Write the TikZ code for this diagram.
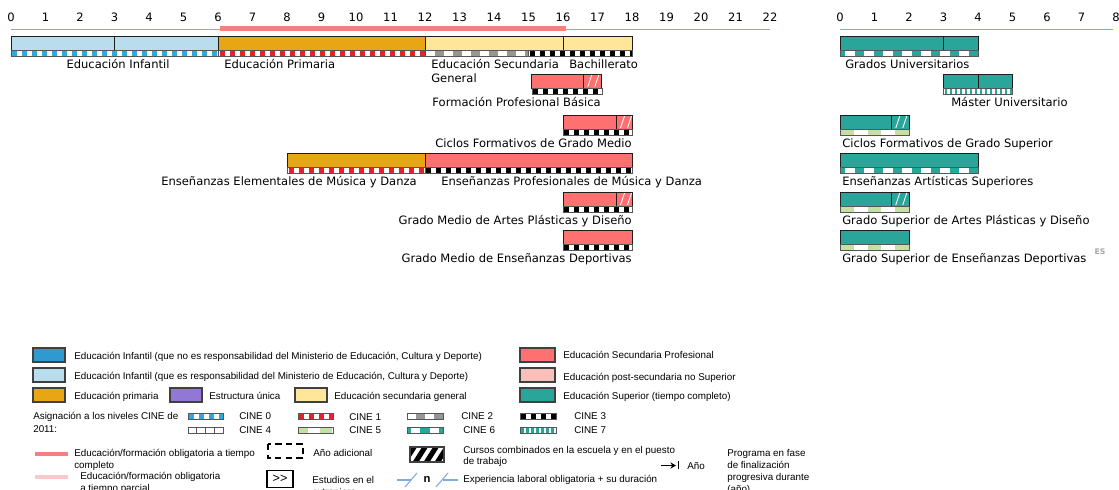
\documentclass[tikz,border=0pt]{standalone}
\usepackage{fontspec}
\setmainfont{DejaVu Sans}
\newfontfamily\legendFamily{Liberation Sans}
\usetikzlibrary{positioning,arrows.meta}
\definecolor{infantDark}{RGB}{47,154,208}
\definecolor{infantLight}{RGB}{185,221,237}
\definecolor{primaryColor}{RGB}{232,165,20}
\definecolor{singleColor}{RGB}{145,120,214}
\definecolor{secondaryColor}{RGB}{255,230,153}
\definecolor{vocationalColor}{RGB}{255,112,112}
\definecolor{postSecColor}{RGB}{249,191,185}
\definecolor{tertiaryColor}{RGB}{41,166,153}
\definecolor{cineZero}{RGB}{41,170,225}
\definecolor{cineOne}{RGB}{232,32,42}
\definecolor{cineTwo}{RGB}{150,150,150}
\definecolor{cineFive}{RGB}{197,224,164}
\definecolor{axisColor}{RGB}{126,174,224}
\definecolor{fullTimeColor}{RGB}{242,128,128}
\definecolor{partTimeColor}{RGB}{250,200,202}
\definecolor{frameColor}{RGB}{30,30,30}
\newcommand{\chartFont}{\fontsize{8.2pt}{10pt}\selectfont}
\newcommand{\keyFont}{\legendFamily\fontsize{7pt}{9pt}\selectfont}
\tikzstyle{chart} = [x=0.025cm, y=-0.025cm]
\tikzstyle{barStyle} = [draw=frameColor, line width=0.7pt]
\tikzstyle{stripFrame} = [draw=frameColor!75, line width=0.5pt]
\tikzstyle{axisLine} = [color=axisColor, line width=0.8pt]
\tikzstyle{compulsoryLine} = [color=fullTimeColor, line width=2.9pt]
\tikzstyle{tickText} = [font=\chartFont, inner sep=0pt]
\tikzstyle{levelText} = [font=\chartFont, inner sep=0pt]
\tikzstyle{keyText} = [font=\keyFont, inner sep=0pt, anchor=base west]
\tikzstyle{keyBox} = [draw=frameColor!85, line width=0.8pt]
\newcommand{\yearWidth}{34.5}
\newcommand{\eduBar}[5]{\filldraw [barStyle, fill=#5] ({#1 + \yearWidth * #2}, #4) rectangle ({#1 + \yearWidth * #3}, #4 + 14);}
\newcommand{\yearDivider}[3]{\draw [barStyle] ({#1 + \yearWidth * #2}, #3) -- ++(0, 14);}
\newcommand{\combinedMarks}[3]{
  \draw [white, line width=0.6pt] ({#1 + \yearWidth * #2 + 4}, #3 + 13) -- ++(4, -12);
  \draw [white, line width=0.6pt] ({#1 + \yearWidth * #2 + 11}, #3 + 13) -- ++(4, -12);
}
\newcommand{\cineCells}[6]{
  \begin{scope}
    \clip (#1, #3) rectangle (#2, #3 + 6.5);
    \fill [white] (#1, #3) rectangle (#2, #3 + 6.5);
    \pgfmathtruncatemacro{\cellCount}{(#2 - #1) / (2 * #5) + 1}
    \foreach \cellIndex in {0,...,\cellCount} {
      \fill [#4] ({#1 + #6 + 2 * #5 * \cellIndex}, #3) rectangle ++(#5, 6.5);
    }
  \end{scope}
  \draw [stripFrame] (#1, #3) rectangle (#2, #3 + 6.5);
}
\newcommand{\cineStrip}[7]{
  \pgfmathsetmacro{\stripLeft}{#1 + \yearWidth * #2}
  \pgfmathsetmacro{\stripRight}{#1 + \yearWidth * #3}
  \cineCells{\stripLeft}{\stripRight}{#4}{#5}{#6}{#7}
}
\newcommand{\keySwatch}[4]{\filldraw [keyBox, fill=#4] (#1, #2) rectangle (#3, #2 + 14);}

\begin{document}
\begin{tikzpicture}[chart]
  \useasboundingbox (0,0) rectangle (1119,490);
  % axes
  \draw [axisLine] (11,29.5) -- (770,29.5);
  \draw [axisLine] (840,29.5) -- (1113,29.5);
  \draw [compulsoryLine] (220,28.5) -- (566,28.5);
  \foreach \tick in {0,...,22} {
    \node [tickText] (leftTick\tick) at ({11 + \yearWidth * \tick}, 17) {\tick};
  }
  \foreach \tick in {0,...,8} {
    \node [tickText] (rightTick\tick) at ({840 + \yearWidth * \tick}, 17) {\tick};
  }

  % general path
  \eduBar{11}{0}{6}{36}{infantLight}
  \yearDivider{11}{3}{36}
  \cineStrip{11}{0}{6}{50}{cineZero}{5}{1}
  \eduBar{11}{6}{12}{36}{primaryColor}
  \cineStrip{11}{6}{12}{50}{cineOne}{5}{2}
  \eduBar{11}{12}{18}{36}{secondaryColor}
  \yearDivider{11}{16}{36}
  \cineStrip{11}{12}{15}{50}{cineTwo}{9}{10}
  \cineStrip{11}{15}{18}{50}{black}{5}{1}
  \node [levelText, anchor=base] (infantLabel) at (118,68.5) {Educación Infantil};
  \node [levelText, anchor=base west] (primaryLabel) at (224,68.5) {Educación Primaria};
  \node [levelText, anchor=base west] (lowerSecLabel) at (431,68.5) {Educación Secundaria};
  \node [levelText, anchor=base west] (lowerSecLabelb) at (431,82.5) {General};
  \node [levelText, anchor=base west] (upperSecLabel) at (569,68.5) {Bachillerato};

  % vocational rows
  \eduBar{11}{15.1}{17.13}{74}{vocationalColor}
  \yearDivider{11}{16.6}{74}
  \combinedMarks{11}{16.6}{74}
  \cineStrip{11}{15.1}{17.13}{88}{black}{5}{1}
  \node [levelText, anchor=base east] (basicLabel) at (601,106.5) {Formación Profesional Básica};

  \eduBar{11}{16}{18}{115}{vocationalColor}
  \yearDivider{11}{17.55}{115}
  \combinedMarks{11}{17.55}{115}
  \cineStrip{11}{16}{18}{129}{black}{5}{1}
  \node [levelText, anchor=base east] (midCycleLabel) at (632,147.5) {Ciclos Formativos de Grado Medio};

  \eduBar{11}{8}{12}{153}{primaryColor}
  \cineStrip{11}{8}{12}{167}{cineOne}{5}{2}
  \eduBar{11}{12}{18}{153}{vocationalColor}
  \cineStrip{11}{12}{18}{167}{black}{5}{1}
  \node [levelText, anchor=base east] (musicBasicLabel) at (417,185.5) {Enseñanzas Elementales de Música y Danza};
  \node [levelText, anchor=base west] (musicProLabel) at (441,185.5) {Enseñanzas Profesionales de Música y Danza};

  \eduBar{11}{16}{18}{192}{vocationalColor}
  \yearDivider{11}{17.55}{192}
  \combinedMarks{11}{17.55}{192}
  \cineStrip{11}{16}{18}{206}{black}{5}{1}
  \node [levelText, anchor=base east] (artsMidLabel) at (632,224.5) {Grado Medio de Artes Plásticas y Diseño};

  \eduBar{11}{16}{18}{230}{vocationalColor}
  \cineStrip{11}{16}{18}{244}{black}{5}{1}
  \node [levelText, anchor=base east] (sportsMidLabel) at (632,262.5) {Grado Medio de Enseñanzas Deportivas};

  % higher education
  \eduBar{840}{0}{4}{36}{tertiaryColor}
  \yearDivider{840}{3}{36}
  \cineStrip{840}{0}{4}{50}{tertiaryColor}{9.5}{-4.5}
  \node [levelText, anchor=base west] (degreeLabel) at (845,68.5) {Grados Universitarios};

  \eduBar{840}{3}{5}{74}{tertiaryColor}
  \yearDivider{840}{4}{74}
  \cineStrip{840}{3}{5}{88}{tertiaryColor}{2.5}{1}
  \node [levelText, anchor=base west] (masterLabel) at (951,106.5) {Máster Universitario};

  \eduBar{840}{0}{2}{115}{tertiaryColor}
  \yearDivider{840}{1.5}{115}
  \combinedMarks{840}{1.5}{115}
  \cineStrip{840}{0}{2}{129}{cineFive}{13.8}{0}
  \node [levelText, anchor=base west] (highCycleLabel) at (842,147.5) {Ciclos Formativos de Grado Superior};

  \eduBar{840}{0}{4}{153}{tertiaryColor}
  \cineStrip{840}{0}{4}{167}{tertiaryColor}{9.5}{-4.5}
  \node [levelText, anchor=base west] (artsHighLabel) at (842,185.5) {Enseñanzas Artísticas Superiores};

  \eduBar{840}{0}{2}{192}{tertiaryColor}
  \yearDivider{840}{1.5}{192}
  \combinedMarks{840}{1.5}{192}
  \cineStrip{840}{0}{2}{206}{cineFive}{13.8}{0}
  \node [levelText, anchor=base west] (designHighLabel) at (842,224.5) {Grado Superior de Artes Plásticas y Diseño};

  \eduBar{840}{0}{2}{230}{tertiaryColor}
  \cineStrip{840}{0}{2}{244}{cineFive}{13.8}{0}
  \node [levelText, anchor=base west] (sportsHighLabel) at (842,262.5) {Grado Superior de Enseñanzas Deportivas};
  \node [font=\fontsize{5.5pt}{6pt}\selectfont\bfseries, text=black!35, inner sep=0pt] (countryCode) at (1100,252) {ES};

  % legend
  \keySwatch{33}{348}{65}{infantDark}
  \keySwatch{33}{368}{65}{infantLight}
  \keySwatch{33}{388}{65}{primaryColor}
  \keySwatch{170}{388}{202}{singleColor}
  \keySwatch{295}{388}{327}{secondaryColor}
  \keySwatch{520}{348}{555}{vocationalColor}
  \keySwatch{520}{368}{555}{postSecColor}
  \keySwatch{520}{388}{555}{tertiaryColor}
  \node [keyText] (keyInfantOther) at (74,359.5) {Educación Infantil (que no es responsabilidad del Ministerio de Educación, Cultura y Deporte)};
  \node [keyText] (keyInfantMin) at (74,379.5) {Educación Infantil (que es responsabilidad del Ministerio de Educación, Cultura y Deporte)};
  \node [keyText] (keyPrimary) at (74,399.5) {Educación primaria};
  \node [keyText] (keySingle) at (209,399.5) {Estructura única};
  \node [keyText] (keySecondary) at (334,399.5) {Educación secundaria general};
  \node [keyText] (keyVocational) at (563,358.5) {Educación Secundaria Profesional};
  \node [keyText] (keyPostSec) at (563,380.5) {Educación post-secundaria no Superior};
  \node [keyText] (keyTertiary) at (563,399.5) {Educación Superior (tiempo completo)};

  \node [keyText] (keyCine) at (33,419.5) {Asignación a los niveles CINE de};
  \node [keyText] (keyCineb) at (33,432.5) {2011:};
  \cineCells{188}{223}{413}{cineZero}{5}{1}
  \cineCells{298}{333}{413}{cineOne}{5}{1}
  \cineCells{407}{443}{413}{cineTwo}{9}{9}
  \cineCells{520}{556}{413}{black}{5}{1}
  \draw [stripFrame, fill=white] (188,427) rectangle (223,433.5);
  \foreach \split in {1,2,3} {
    \draw [stripFrame] ({188 + 8.75 * \split},427) -- ++(0,6.5);
  }
  \cineCells{298}{333}{427}{cineFive}{12}{-2}
  \cineCells{407}{443}{427}{tertiaryColor}{9.5}{-6}
  \cineCells{520}{556}{427}{tertiaryColor}{2.5}{1}
  \node [keyText] (keyCineZero) at (239,420) {CINE 0};
  \node [keyText] (keyCineOne) at (349,421) {CINE 1};
  \node [keyText] (keyCineTwo) at (461,420) {CINE 2};
  \node [keyText] (keyCineThree) at (574,420) {CINE 3};
  \node [keyText] (keyCineFour) at (239,434) {CINE 4};
  \node [keyText] (keyCineFive) at (349,434) {CINE 5};
  \node [keyText] (keyCineSix) at (463,434) {CINE 6};
  \node [keyText] (keyCineSeven) at (574,434) {CINE 7};

  \draw [compulsoryLine] (35,454) -- (68,454);
  \draw [color=partTimeColor, line width=2.9pt] (35,477) -- (68,477);
  \node [keyText] (keyFullTime) at (74,456.5) {Educación/formación obligatoria a tiempo};
  \node [keyText] (keyFullTimeb) at (74,468.5) {completo};
  \node [keyText] (keyPartTime) at (80,480) {Educación/formación obligatoria};
  \node [keyText] (keyPartTimeb) at (80,492) {a tiempo parcial};

  \draw [black, line width=1.1pt, dash pattern=on 4.5pt off 3pt] (268,444) rectangle (303,458);
  \node [keyText] (keyExtraYear) at (313,457) {Año adicional};
  \node [draw, line width=0.8pt, minimum width=0.65cm, minimum height=0.43cm, inner sep=0pt,
         font=\legendFamily\fontsize{9pt}{9pt}\selectfont] (abroadBox) at (280,479) {>>};
  \node [keyText] (keyAbroad) at (312,484) {Estudios en el};
  \node [keyText] (keyAbroadb) at (312,496) {extranjero};

  \begin{scope}
    \clip (410,447) rectangle (444,462);
    \fill [white] (410,447) rectangle (444,462);
    \foreach \band in {0,1,2,3} {
      \draw [black, line width=3.6pt] ({402 + 11 * \band},466) -- ++(14,-22);
    }
  \end{scope}
  \draw [keyBox] (410,447) rectangle (444,462);
  \node [keyText] (keyCombined) at (463,454) {Cursos combinados en la escuela y en el puesto};
  \node [keyText] (keyCombinedb) at (463,465) {de trabajo};

  \draw [axisColor, line width=0.8pt] (397,480) -- (411,480);
  \draw [axisColor, line width=0.8pt] (405,487) -- (417,473);
  \node [font=\legendFamily\bfseries\fontsize{8pt}{8pt}\selectfont, inner sep=0pt] (keyWorkN) at (427,479) {n};
  \draw [axisColor, line width=0.8pt] (436,487) -- (448,473);
  \draw [axisColor, line width=0.8pt] (443,480) -- (458,480);
  \node [keyText] (keyWork) at (463,483) {Experiencia laboral obligatoria + su duración};

  \coordinate (phaseStart) at (661,465.5);
  \coordinate (phaseEnd) at (676,465.5);
  \draw [black, line width=1.2pt, -{Stealth[length=4pt,width=4.5pt]}] (phaseStart) -- (phaseEnd);
  \draw [black, line width=1.2pt] (678.5,461.5) -- (678.5,469.5);
  \node [keyText] (keyYear) at (687,470) {Año};
  \node [keyText] (keyPhase) at (727,457) {Programa en fase};
  \node [keyText] (keyPhaseb) at (727,469) {de finalización};
  \node [keyText] (keyPhasec) at (727,481) {progresiva durante};
  \node [keyText] (keyPhased) at (727,493) {(año)};
\end{tikzpicture}
\end{document}
